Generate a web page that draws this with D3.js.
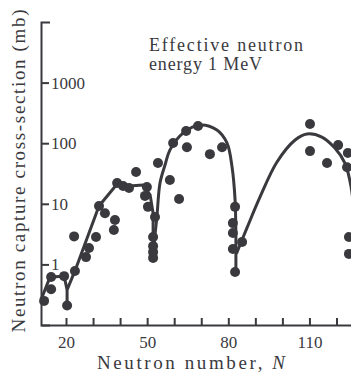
<!DOCTYPE html>
<html>
<head>
<meta charset="utf-8">
<script src="https://cdn.jsdelivr.net/npm/d3@7"></script>
<style>
  body { margin: 0; background: #fff; }
  svg { display: block; }
  text { font-family: "Liberation Serif", "Times New Roman", serif; fill: #3a3a3e; }
</style>
</head>
<body>
<svg class="chart" width="351" height="376"></svg>
<script>
// measured points [N, sigma in mb]
const dotsLow = [
    [11.9, 0.25], [14.5, 0.39], [14.5, 0.62], [19.3, 0.64], [20.4, 0.21],
    [23.3, 0.78], [23.0, 2.9], [27.4, 1.32], [28.5, 1.87], [31.1, 2.83],
    [32.2, 9.2], [34.4, 7.0], [38.1, 5.4], [37.7, 3.7], [38.9, 22],
    [41.1, 19.7], [43.3, 18.2], [45.9, 33.5], [49.9, 18.9], [49.2, 13.5],
    [50.3, 8.9], [52.9, 6.05], [52.2, 2.83], [52.2, 2.0], [52.2, 1.6], [52.2, 1.28]
];
const dotsMid = [
    [54.0, 47], [58.4, 24.7], [61.8, 12], [59.6, 101], [64.4, 159],
    [64.7, 86], [68.8, 192], [73.2, 66], [77.7, 86], [82.5, 8.9],
    [81.7, 4.8], [81.7, 3.3], [81.7, 1.8], [85.1, 2.34], [82.5, 0.75]
];
const dotsHigh = [
    [110.2, 207], [110.2, 74], [116.5, 47], [120.6, 93], [124.2, 69],
    [123.9, 40], [124.6, 2.83], [124.6, 1.49]
];

// hand drawn trend line, in three pieces
const fitLow = [
    [10.9, 0.27], [14.1, 0.62], [19.3, 0.64], [20.4, 0.38], [20.4, 0.21],
    [20.4, 0.38], [23.3, 0.78], [32.2, 9.2], [39.2, 22], [43.3, 19.7],
    [48.5, 20.4], [51.1, 14], [52.2, 7.0], [52.2, 1.28]
];
const fitMid = [
    [52.2, 1.28], [52.9, 3.06], [53.6, 6.05], [54.75, 22], [56.6, 43.6],
    [58.4, 77], [63.25, 147], [69.5, 200], [75.8, 165], [79.5, 101],
    [81.4, 40], [82.5, 11.6], [82.8, 3.3], [82.8, 0.75]
];
const fitHigh = [
    [83.0, 1.5], [86.9, 4.0], [91.7, 12.9], [98.0, 49], [104.7, 113],
    [109.1, 142], [114.6, 126], [119.4, 83], [123.1, 47], [125.4, 19], [126.5, 6.5]
];

const xTicks = [20, 30, 40, 50, 60, 70, 80, 90, 100, 110, 120];
const xLabels = [20, 50, 80, 110];
const yTicks = [1, 10, 100, 1000];

const ink = "#3a3a3e";
const svg = d3.select(".chart");

// scales
const xBase = d3.scaleLinear().domain([20, 120]).range([66, 336.5]);
const x = xBase.copy().domain([xBase.invert(41), xBase.invert(353)]).range([41, 353]);
const y = d3.scaleLog().domain([0.1, 10000]).range([325, 22]);

// x axis, ticks pointing up
const xAxis = svg.append("g")
    .attr("transform", "translate(0,325)")
    .call(d3.axisBottom(x)
        .tickValues(xTicks)
        .tickSizeInner(-7)
        .tickSizeOuter(0)
        .tickPadding(11)
        .tickFormat(d => xLabels.includes(d) ? d : ""));

// y axis, labels on the inside
const yAxis = svg.append("g")
    .attr("transform", "translate(41,0)")
    .call(d3.axisRight(y)
        .tickValues(yTicks)
        .tickSizeInner(8)
        .tickSizeOuter(9)
        .tickPadding(2)
        .tickFormat(d3.format("d")));

[xAxis, yAxis].forEach(g => {
    g.selectAll("path, line").attr("stroke", ink).attr("stroke-width", 2);
    g.selectAll("text")
        .attr("fill", ink)
        .style("font-family", "'Liberation Serif', serif")
        .style("font-size", "17px");
});

// trend line
const line = d3.line().x(d => x(d[0])).y(d => y(d[1]));

svg.append("path")
    .datum(fitLow)
    .attr("d", line.curve(d3.curveLinear))
    .attr("fill", "none")
    .attr("stroke", ink)
    .attr("stroke-width", 3)
    .attr("stroke-linejoin", "round");

[fitMid, fitHigh].forEach(seg => {
    svg.append("path")
        .datum(seg)
        .attr("d", line.curve(d3.curveCatmullRom))
        .attr("fill", "none")
        .attr("stroke", ink)
        .attr("stroke-width", 3);
});

// measured points
svg.append("g")
    .selectAll("circle")
    .data(dotsLow.concat(dotsMid, dotsHigh))
    .join("circle")
    .attr("cx", d => x(d[0]))
    .attr("cy", d => y(d[1]))
    .attr("r", 5)
    .attr("fill", ink);

// annotation
svg.append("text")
    .attr("x", 149).attr("y", 51)
    .attr("textLength", 154).attr("lengthAdjust", "spacing")
    .style("font-size", "18px")
    .text("Effective neutron");

svg.append("text")
    .attr("x", 149).attr("y", 70)
    .attr("textLength", 113).attr("lengthAdjust", "spacing")
    .style("font-size", "18px")
    .text("energy 1 MeV");

// axis titles
const xTitle = svg.append("text")
    .attr("x", 191).attr("y", 369)
    .attr("text-anchor", "middle")
    .attr("textLength", 188).attr("lengthAdjust", "spacing")
    .style("font-size", "19px");
xTitle.append("tspan").text("Neutron number, ");
xTitle.append("tspan").style("font-style", "italic").text("N");

svg.append("text")
    .attr("transform", "translate(25,171) rotate(-90)")
    .attr("text-anchor", "middle")
    .attr("textLength", 323).attr("lengthAdjust", "spacing")
    .style("font-size", "19px")
    .text("Neutron capture cross-section (mb)");
</script>
</body>
</html>
